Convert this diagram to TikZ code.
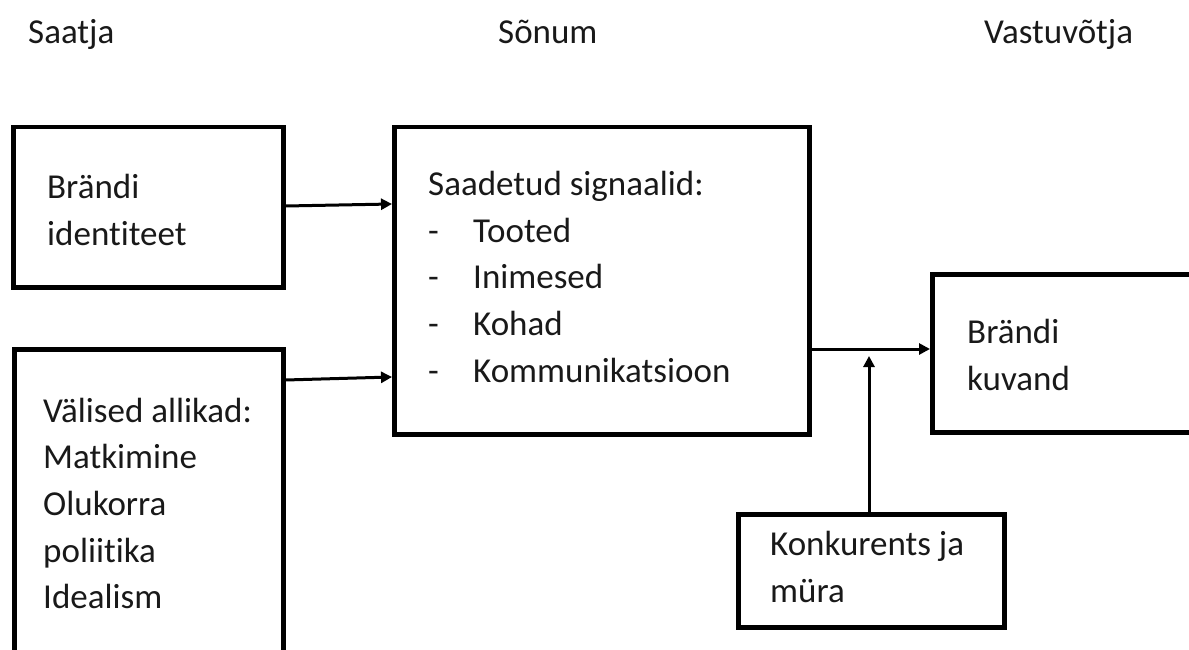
\documentclass[tikz,border=0pt]{standalone}
\usepackage{fontspec}
\setmainfont{Carlito}[RawFeature={-liga}]
\usetikzlibrary{arrows.meta}
\begin{document}
\begin{tikzpicture}[x=1pt,y=-1pt,
  box/.style={draw=black, line width=4.5pt, inner sep=0pt, anchor=north west},
  txt/.style={anchor=base west, inner sep=0pt, font=\fontsize{35}{46.7}\selectfont, text=black!90},
  conn/.style={line width=3pt, -{Triangle[length=11pt,width=11pt]}}]
\useasboundingbox (0,0) rectangle (1189,650);
\clip (0,0) rectangle (1189,650);
% titles
\node[txt] (t1) at (28,44) {Saatja};
\node[txt] (t2) at (498,44) {Sõnum};
\node[txt] (t3) at (984,44) {Vastuvõtja};
% boxes
\node[box, minimum width=270pt, minimum height=160pt] (b1) at (11,125) {};
\node[box, minimum width=269pt, minimum height=360pt] (b2) at (12,347) {};
\node[box, minimum width=415pt, minimum height=307pt] (b3) at (392,125) {};
\node[box, minimum width=320pt, minimum height=158pt] (b4) at (930,272) {};
\node[box, minimum width=266pt, minimum height=113pt] (b5) at (736,512) {};
% box 1 text
\node[txt] (a1) at (47,198) {Brändi};
\node[txt] (a2) at (47,245) {identiteet};
% box 2 text
\node[txt] (c1) at (43,422) {Välised allikad:};
\node[txt] (c2) at (43,468) {Matkimine};
\node[txt] (c3) at (43,515) {Olukorra};
\node[txt] (c4) at (43,562) {poliitika};
\node[txt] (c5) at (43,608) {Idealism};
% box 3 text
\node[txt] (s0) at (428,195) {Saadetud signaalid:};
\node[txt] (d1) at (428,242) {-};
\node[txt] (d2) at (428,288) {-};
\node[txt] (d3) at (428,335) {-};
\node[txt] (d4) at (428,382) {-};
\node[txt] (s1) at (473,242) {Tooted};
\node[txt] (s2) at (473,288) {Inimesed};
\node[txt] (s3) at (473,335) {Kohad};
\node[txt] (s4) at (473,382) {Kommunikatsioon};
% box 4 text
\node[txt] (k1) at (967,343) {Brändi};
\node[txt] (k2) at (967,390) {kuvand};
% box 5 text
\node[txt] (m1) at (770,555) {Konkurents ja};
\node[txt] (m2) at (770,602) {müra};
% connectors
\draw[conn] (b1.east |- 0,206) -- (b3.west |- 0,204);
\draw[conn] (b2.east |- 0,380) -- (b3.west |- 0,377);
\draw[conn] (b3.east |- 0,349) -- (b4.west |- 0,349);
\coordinate (nz) at (869,356);
\draw[conn] (b5.north -| nz) -- (nz);
\end{tikzpicture}
\end{document}
